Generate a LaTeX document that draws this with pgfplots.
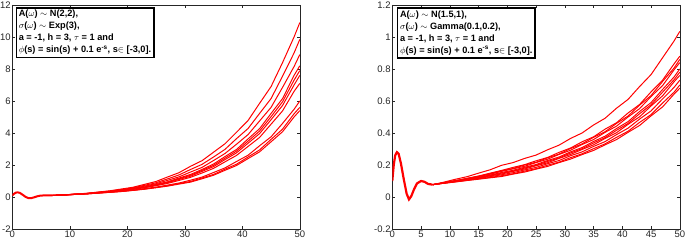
\documentclass[border=0pt]{standalone}
\usepackage{pgfplots}
\usepackage{pgfplotstable}
\pgfplotsset{compat=1.18}
\usepackage{fontspec}
\setmainfont{Liberation Sans}
\definecolor{axgray}{HTML}{262626}

\pgfplotstableread{
x s1 s2 s3 s4 s5 s6 s7 s8 s9 s10
7 0.10 0.10 0.10 0.10 0.10 0.10 0.10 0.10 0.10 0.10
9 0.135 0.132 0.13 0.129 0.131 0.13 0.128 0.127 0.126 0.127
11 0.18 0.18 0.176 0.174 0.17 0.169 0.168 0.165 0.162 0.161
13 0.235 0.224 0.218 0.213 0.214 0.211 0.208 0.198 0.198 0.196
15 0.31 0.3 0.29 0.28 0.273 0.27 0.264 0.253 0.246 0.244
17 0.39 0.37 0.352 0.34 0.338 0.333 0.325 0.30 0.297 0.292
19 0.5 0.465 0.44 0.42 0.408 0.40 0.388 0.362 0.348 0.343
21 0.61 0.575 0.54 0.52 0.506 0.495 0.478 0.43 0.42 0.412
23 0.79 0.73 0.68 0.63 0.618 0.60 0.578 0.523 0.498 0.486
25 0.97 0.89 0.83 0.785 0.76 0.74 0.705 0.618 0.596 0.58
27 1.25 1.13 1.04 0.95 0.92 0.89 0.85 0.745 0.70 0.68
29 1.52 1.38 1.26 1.18 1.14 1.095 1.035 0.875 0.84 0.806
31 1.92 1.72 1.56 1.41 1.36 1.30 1.23 1.05 0.97 0.93
33 2.27 2.04 1.85 1.72 1.66 1.6 1.5 1.245 1.19 1.14
35 2.8 2.5 2.28 2.06 1.98 1.9 1.79 1.53 1.41 1.36
37 3.33 2.98 2.72 2.53 2.43 2.34 2.2 1.82 1.74 1.67
39 4.05 3.65 3.3 2.97 2.87 2.76 2.6 2.22 2.05 1.97
41 4.78 4.28 3.9 3.63 3.49 3.36 3.16 2.61 2.5 2.4
43 5.85 5.22 4.75 4.27 4.12 3.96 3.72 3.2 2.94 2.82
45 6.9 6.15 5.6 5.22 5.02 4.83 4.55 3.76 3.6 3.45
47 8.4 7.55 6.85 6.15 5.95 5.72 5.38 4.6 4.24 4.08
49 10.0 9.0 8.15 7.6 7.3 7.0 6.6 5.48 5.2 5.0
50 10.9 9.85 8.9 8.2 7.9 7.6 7.1 6.0 5.6 5.4
}\tabL

\pgfplotstableread{
x s1 s2 s3 s4 s5 s6 s7 s8 s9 s10
7 0.077 0.077 0.077 0.077 0.077 0.077 0.077 0.077 0.077 0.077
9 0.093 0.09 0.089 0.089 0.088 0.088 0.087 0.087 0.086 0.086
11 0.111 0.102 0.103 0.101 0.1 0.099 0.098 0.097 0.095 0.094
13 0.127 0.117 0.115 0.114 0.111 0.109 0.109 0.106 0.104 0.103
15 0.149 0.131 0.13 0.128 0.124 0.122 0.119 0.117 0.114 0.111
17 0.17 0.149 0.145 0.142 0.137 0.134 0.132 0.127 0.122 0.12
19 0.198 0.166 0.164 0.16 0.153 0.149 0.144 0.139 0.133 0.128
21 0.215 0.185 0.178 0.176 0.167 0.162 0.16 0.152 0.145 0.143
23 0.241 0.202 0.2 0.192 0.186 0.181 0.175 0.169 0.162 0.156
25 0.262 0.226 0.217 0.215 0.203 0.198 0.195 0.185 0.177 0.174
27 0.295 0.247 0.245 0.236 0.228 0.222 0.214 0.208 0.199 0.191
29 0.324 0.279 0.268 0.266 0.25 0.244 0.241 0.228 0.218 0.215
31 0.366 0.306 0.303 0.292 0.282 0.275 0.266 0.258 0.246 0.237
33 0.40 0.345 0.332 0.328 0.309 0.302 0.297 0.282 0.27 0.265
35 0.45 0.376 0.373 0.359 0.347 0.338 0.326 0.316 0.302 0.291
37 0.492 0.424 0.408 0.404 0.38 0.371 0.366 0.346 0.332 0.326
39 0.555 0.464 0.46 0.443 0.428 0.417 0.402 0.39 0.373 0.359
41 0.61 0.525 0.506 0.50 0.471 0.46 0.454 0.43 0.411 0.404
43 0.69 0.578 0.574 0.552 0.534 0.52 0.501 0.487 0.466 0.447
45 0.765 0.657 0.634 0.628 0.59 0.577 0.569 0.538 0.515 0.507
47 0.87 0.73 0.722 0.696 0.672 0.655 0.632 0.613 0.587 0.563
49 0.975 0.832 0.806 0.795 0.75 0.733 0.72 0.685 0.655 0.643
50 1.035 0.88 0.86 0.84 0.80 0.78 0.76 0.73 0.70 0.68
}\tabR

\pgfplotsset{
  mstyle/.style={
    scale only axis, width=287.5pt, height=224pt, anchor=south west,
    xmin=0, xmax=50,
    axis line style={axgray, line width=0.6pt},
    tick style={axgray, line width=0.6pt},
    tick align=inside, major tick length=3pt,
    tick label style={font=\fontsize{9.5}{10}\selectfont, text=axgray, inner sep=1.5pt},
    /pgf/number format/assume math mode=true,
  },
}
\tikzset{
  traj/.style={red, line width=1pt},
  legbox/.style={draw=black, line width=1.6pt, fill=white, anchor=north west,
    inner xsep=2.5pt, inner ysep=2.5pt, align=left,
    font=\fontsize{9.2}{12}\selectfont\bfseries},
}

\begin{document}
\begin{tikzpicture}
\useasboundingbox (0pt,0pt) rectangle (685pt,243pt);
\clip (0pt,0pt) rectangle (685pt,243pt);
\begin{axis}[mstyle, at={(12.3pt,14pt)},
  ymin=-2, ymax=12,
  xtick={0,10,20,30,40,50}, xticklabels={0,10,20,30,40,50},
  ytick={-2,0,2,4,6,8,10,12}, yticklabels={-2,0,2,4,6,8,10,12}]
\addplot[traj, line width=2pt] coordinates {(0,0.1)(0.3,0.2)(0.6,0.27)(0.9,0.29)(1.3,0.26)(1.8,0.14)(2.3,0.01)(2.8,-0.07)(3.3,-0.07)(3.8,-0.02)(4.3,0.04)(4.8,0.08)(5.5,0.1)(6.2,0.1)(7,0.1)};
\pgfplotsinvokeforeach{1,...,10}{\addplot[traj] table[x=x,y=s#1]{\tabL};}
\end{axis}
\begin{axis}[mstyle, at={(392.3pt,14pt)},
  ymin=-0.2, ymax=1.2,
  xtick={0,5,10,15,20,25,30,35,40,45,50}, xticklabels={0,5,10,15,20,25,30,35,40,45,50},
  ytick={-0.2,0,0.2,0.4,0.6,0.8,1,1.2}, yticklabels={-0.2,0,0.2,0.4,0.6,0.8,1,1.2}]
\addplot[traj, line width=2.2pt] coordinates {(0,0.1)(0.25,0.2)(0.5,0.26)(0.8,0.28)(1.1,0.27)(1.5,0.21)(2,0.11)(2.5,0.02)(2.9,-0.015)(3.3,0.005)(3.8,0.05)(4.3,0.085)(5.0,0.1)(5.6,0.095)(6.2,0.082)(7,0.077)};
\pgfplotsinvokeforeach{1,...,10}{\addplot[traj] table[x=x,y=s#1]{\tabR};}
\end{axis}
\node[legbox] at (15.5pt,236pt)
  {A($\omega$) $\sim$ N(2,2),\\ $\sigma$($\omega$) $\sim$ Exp(3),\\ a = -1, h = 3, $\tau$ = 1 and\\ $\phi$(s) = sin(s) + 0.1 e\textsuperscript{-s}, s$\in$ [-3,0].};
\node[legbox] at (396.7pt,235.5pt)
  {A($\omega$) $\sim$ N(1.5,1),\\ $\sigma$($\omega$) $\sim$ Gamma(0.1,0.2),\\ a = -1, h = 3, $\tau$ = 1 and\\ $\phi$(s) = sin(s) + 0.1 e\textsuperscript{-s}, s$\in$ [-3,0].};
\end{tikzpicture}
\end{document}
